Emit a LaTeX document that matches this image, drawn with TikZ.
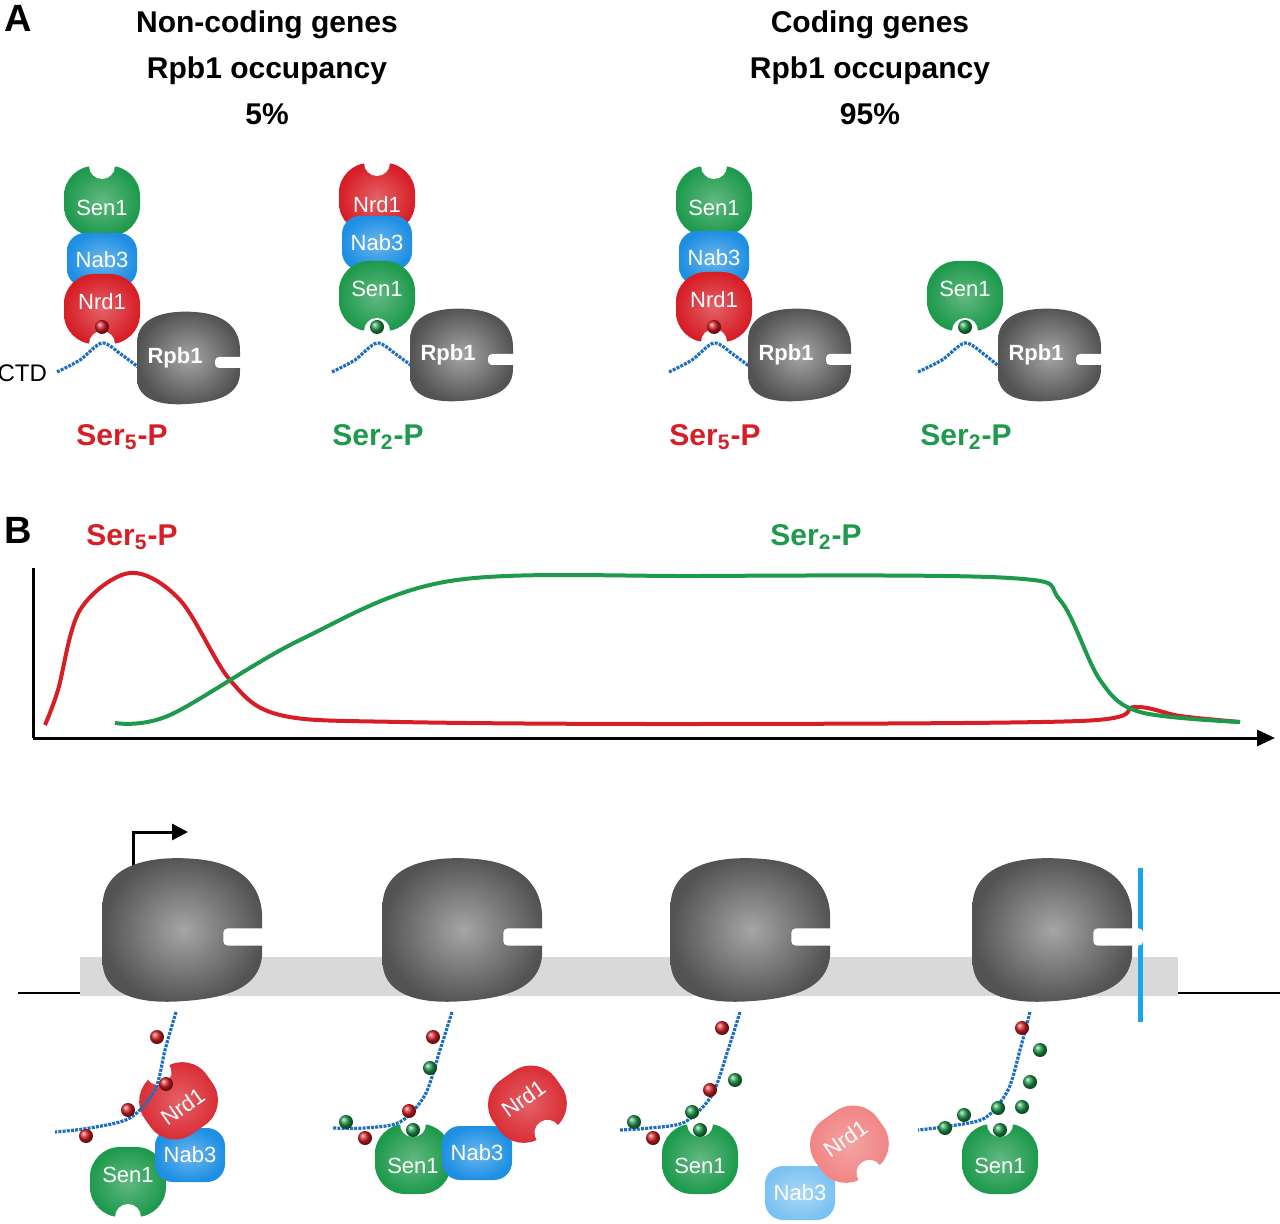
\documentclass[tikz,border=0pt]{standalone}
\usepackage{fontspec}
\setmainfont{Liberation Sans}
\usetikzlibrary{arrows.meta}
\definecolor{gr}{HTML}{1E9A4C}
\definecolor{rd}{HTML}{D71E26}
\definecolor{bl}{HTML}{1E8FE3}
\definecolor{gy}{HTML}{5C5C5C}
\definecolor{ctd}{HTML}{1F6FBF}
\definecolor{rdl}{HTML}{F07C7C}
\definecolor{bll}{HTML}{7CC3F2}
\tikzset{
 lab/.style={text=white,font=\fontsize{11}{11}\selectfont},
 head/.style={font=\bfseries\fontsize{15}{15}\selectfont},
 ctdl/.style={ctd,line width=1.6pt,dash pattern=on 1.5pt off 0.6pt},
}
\newcommand\mycup[6][0]{\begin{scope}[shift={(#2,#3)},rotate=#4]
 \shade[inner color=#5!70!white,outer color=#5,rounded corners=15pt] (-38,-34) rectangle (38,36);
 \fill[white] (0,-34) circle (13);
 \node[lab,rotate=#1] at (0,8) {#6};\end{scope}}
\newcommand\mybox[5][0]{\begin{scope}[shift={(#2,#3)},rotate=#1]
 \shade[inner color=#4!65!white,outer color=#4,rounded corners=9pt] (-35,-27) rectangle (35,27);
 \node[lab,rotate=#1] at (0,0) {#5};\end{scope}}
\newcommand\mypol[4]{\begin{scope}[shift={(#1,#2)},scale=#3]
 \shade[inner color=gy!55!white,outer color=gy!90!black] (-50,-15) .. controls (-50,-42) and (-20,-48) .. (8,-46) .. controls (38,-44) and (54,-30) .. (53,-5) -- (53,12) .. controls (54,35) and (35,44) .. (0,46) .. controls (-30,48) and (-50,40) .. (-50,20) -- cycle;
 \fill[white,rounded corners=2pt] (28,-1) rectangle (60,10);
 \node[text=white,font=\bfseries\fontsize{11}{11}\selectfont] at (-12,0) {#4};\end{scope}}
\newcommand\dotr[2]{\shade[ball color=rd] (#1,#2) circle (7);}
\newcommand\dotg[2]{\shade[ball color=gr] (#1,#2) circle (7);}
\newcommand\sfive{Ser\textsubscript{5}-P}
\newcommand\stwo{Ser\textsubscript{2}-P}
\begin{document}
\begin{tikzpicture}[x=0.5pt,y=-0.5pt]
\useasboundingbox (0,0) rectangle (1280,1224);
\node[font=\bfseries\fontsize{19}{19}\selectfont] (A) at (18,18) {A};
\node[font=\bfseries\fontsize{19}{19}\selectfont] (B) at (18,530) {B};
\node[head,align=center] (t1) at (267,68) {Non-coding genes\\[8pt]Rpb1 occupancy\\[8pt]5\%};
\node[head,align=center] (t2) at (870,68) {Coding genes\\[8pt]Rpb1 occupancy\\[8pt]95\%};
% complex 1
\mycup{102}{200}{0}{gr}{Sen1}
\mybox{102}{260}{bl}{Nab3}
\mycup{102}{310}{180}{rd}{Nrd1}
\draw[ctdl] plot[smooth] coordinates {(57,372) (80,360) (102,343) (122,355) (142,370)};
\dotr{102}{327}
\mypol{187}{358}{1}{Rpb1}
\node[font=\fontsize{12}{12}\selectfont,anchor=east] (ctdt) at (54,373) {CTD};
\node[head,text=rd] (s1) at (122,437) {\sfive};
% complex 2
\mycup{377}{197}{0}{rd}{Nrd1}
\mybox{377}{243}{bl}{Nab3}
\mycup{377}{297}{180}{gr}{Sen1}
\draw[ctdl] plot[smooth] coordinates {(332,372) (355,360) (377,343) (397,355) (417,370)};
\dotg{377}{327}
\mypol{460}{355}{1}{Rpb1}
\node[head,text=gr] (s2) at (378,437) {\stwo};
% complex 3
\mycup{714}{200}{0}{gr}{Sen1}
\mybox{714}{258}{bl}{Nab3}
\mycup{714}{308}{180}{rd}{Nrd1}
\draw[ctdl] plot[smooth] coordinates {(669,372) (692,360) (714,343) (734,355) (754,370)};
\dotr{714}{327}
\mypol{798}{355}{1}{Rpb1}
\node[head,text=rd] (s3) at (715,437) {\sfive};
% complex 4
\mycup{965}{297}{180}{gr}{Sen1}
\draw[ctdl] plot[smooth] coordinates {(918,372) (942,360) (965,343) (985,355) (1003,370)};
\dotg{965}{327}
\mypol{1048}{355}{1}{Rpb1}
\node[head,text=gr] (s4) at (966,437) {\stwo};
% panel B graph
\coordinate (o) at (33,738);
\coordinate (yt) at (33,568);
\coordinate (xe) at (1275,738);
\draw[line width=1.5pt] (yt) -- (o);
\draw[line width=1.5pt,-{Triangle[length=9pt,width=8pt]}] (o) -- (xe);
\draw[rd,line width=2pt] plot[smooth,tension=0.55] coordinates {(45,725) (58,690) (80,610) (130,573) (180,600) (230,680) (280,715) (400,722) (700,724) (1080,721) (1135,707) (1180,716) (1240,722)};
\draw[gr,line width=2pt] plot[smooth,tension=0.55] coordinates {(115,723) (170,715) (300,640) (450,581) (700,576) (1010,578) (1060,600) (1100,680) (1140,712) (1240,722)};
\node[head,text=rd] (l5) at (132,537) {\sfive};
\node[head,text=gr] (l2) at (816,537) {\stwo};
% gene
\fill[black!15] (80,957) rectangle (1178,996);
\coordinate (g0) at (18,993); \coordinate (g1) at (80,993);
\coordinate (g2) at (1178,993); \coordinate (g3) at (1280,993);
\draw[line width=1.3pt] (g0) -- (g1); \draw[line width=1.3pt] (g2) -- (g3);
\coordinate (p0) at (133,905); \coordinate (p1) at (133,832); \coordinate (p2) at (188,832);
\draw[line width=1.5pt,-{Triangle[length=8pt,width=8pt]}] (p0) -- (p1) -- (p2);
\draw[bl!80!cyan,line width=2.5pt] (1140,868) -- (1140,1022);
% bottom complexes (proteins first)
\mycup{128}{1183}{180}{gr}{Sen1}
\mybox{190}{1155}{bl}{Nab3}
\mycup[35]{178}{1100}{35}{rd}{Nrd1}
\mycup{413}{1158}{0}{gr}{Sen1}
\mybox{477}{1153}{bl}{Nab3}
\mycup[35]{528}{1105}{215}{rd}{Nrd1}
\mycup{700}{1158}{0}{gr}{Sen1}
\mybox{800}{1193}{bll}{Nab3}
\mycup[35]{850}{1145}{215}{rdl}{Nrd1}
\mycup{1000}{1158}{0}{gr}{Sen1}
% tails
\draw[ctdl] plot[smooth] coordinates {(176,1012) (165,1050) (155,1090) (130,1118) (90,1128) (55,1132)};
\draw[ctdl] plot[smooth] coordinates {(452,1012) (440,1050) (425,1095) (400,1122) (365,1128) (333,1128)};
\draw[ctdl] plot[smooth] coordinates {(740,1012) (728,1050) (712,1095) (685,1122) (650,1128) (620,1130)};
\draw[ctdl] plot[smooth] coordinates {(1030,1012) (1020,1050) (1008,1090) (985,1118) (950,1126) (918,1130)};
\mypol{180}{930}{1.55}{}
\mypol{460}{930}{1.55}{}
\mypol{748}{930}{1.55}{}
\mypol{1050}{930}{1.55}{}
\dotr{157}{1037}\dotr{166}{1084}\dotr{128}{1110}\dotr{86}{1136}
\dotg{413}{1130}
\dotr{433}{1037}\dotg{430}{1068}\dotr{409}{1111}\dotg{346}{1122}\dotr{365}{1138}
\dotg{700}{1130}
\dotr{722}{1028}\dotg{735}{1080}\dotr{710}{1090}\dotg{692}{1112}\dotg{634}{1122}\dotr{653}{1138}
\dotg{1000}{1130}
\dotr{1022}{1028}\dotg{1040}{1050}\dotg{1030}{1082}\dotg{1022}{1107}\dotg{998}{1108}\dotg{964}{1115}\dotg{945}{1128}
\end{tikzpicture}
\end{document}
